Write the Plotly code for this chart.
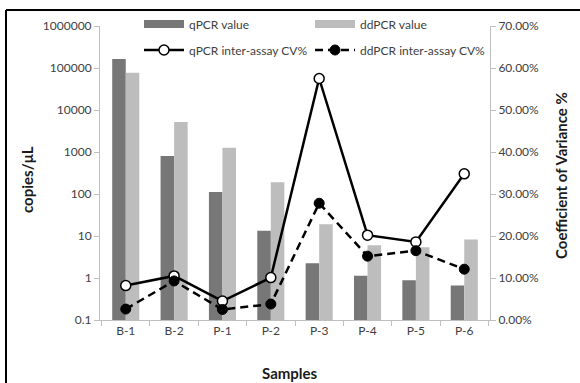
import plotly.graph_objects as go

samples = ["B-1", "B-2", "P-1", "P-2", "P-3", "P-4", "P-5", "P-6"]
qpcr_value = [163000, 800, 112, 13.4, 2.24, 1.13, 0.88, 0.66]
ddpcr_value = [77000, 5200, 1260, 190, 19, 6.0, 5.4, 8.2]
qpcr_cv = [0.082, 0.105, 0.045, 0.101, 0.575, 0.202, 0.186, 0.348]
ddpcr_cv = [0.026, 0.093, 0.025, 0.038, 0.278, 0.152, 0.165, 0.121]
left_ticks = [0.1, 1, 10, 100, 1000, 10000, 100000, 1000000]
left_tick_labels = ["0.1", "1", "10", "100", "1000", "10000", "100000", "1000000"]
right_ticks = [0, 0.1, 0.2, 0.3, 0.4, 0.5, 0.6, 0.7]

W, H = 580, 383
L, R, T, B = 100, 90, 26, 63
pw, ph = W - L - R, H - T - B

def px(x):
    return (x - L) / pw

def py(y):
    return (H - B - y) / ph

FONT = "Lato, 'Open Sans', sans-serif"
TICKC = "#404040"
AXC = "#bfbfbf"
DARK = "#777777"
LIGHT = "#bdbdbd"

fig = go.Figure()
fig.add_trace(go.Bar(x=samples, y=qpcr_value, name="qPCR value",
                     marker=dict(color=DARK, line=dict(width=0)), showlegend=False))
fig.add_trace(go.Bar(x=samples, y=ddpcr_value, name="ddPCR value",
                     marker=dict(color=LIGHT, line=dict(width=0)), showlegend=False))
# legend swatches for the bars (wide flat rectangles, as in the reference)
fig.add_trace(go.Scatter(x=[None], y=[None], name="qPCR value", mode="lines",
                         line=dict(color=DARK, width=8), legend="legend"))
fig.add_trace(go.Scatter(x=[None], y=[None], name="ddPCR value", mode="lines",
                         line=dict(color=LIGHT, width=8), legend="legend2"))
fig.add_trace(go.Scatter(x=samples, y=qpcr_cv, name="qPCR inter-assay CV%",
                         yaxis="y2", mode="lines+markers",
                         line=dict(color="black", width=2.5),
                         marker=dict(symbol="circle", size=10, color="white",
                                     line=dict(color="black", width=1.5)),
                         legend="legend3"))
fig.add_trace(go.Scatter(x=samples, y=ddpcr_cv, name="ddPCR inter-assay CV%",
                         yaxis="y2", mode="lines+markers",
                         line=dict(color="black", width=2.5, dash="8px,5px"),
                         marker=dict(symbol="circle", size=10, color="black",
                                     line=dict(color="black", width=1)),
                         legend="legend4"))

legend_common = dict(orientation="h", xanchor="left", yanchor="middle",
                     bgcolor="rgba(0,0,0,0)",
                     font=dict(family=FONT, size=12, color=TICKC), itemwidth=40)

fig.update_layout(
    width=W, height=H,
    margin=dict(l=L, r=R, t=T, b=B, autoexpand=False),
    paper_bgcolor="white", plot_bgcolor="white",
    font=dict(family=FONT, size=12, color=TICKC),
    barmode="group", bargap=0.44, bargroupgap=0,
    showlegend=True,
    legend=dict(x=px(139), y=py(24), **legend_common),
    legend2=dict(x=px(310), y=py(24), **legend_common),
    legend3=dict(x=px(139), y=py(50), **legend_common),
    legend4=dict(x=px(310), y=py(50), **legend_common),
    xaxis=dict(type="category", showline=True, linecolor=AXC, linewidth=1,
               ticks="outside", ticklen=5, tickcolor=AXC, tickson="boundaries",
               tickfont=dict(family=FONT, size=12, color=TICKC), showgrid=False,
               zeroline=False),
    yaxis=dict(type="log", range=[-1, 6], tickvals=left_ticks, ticktext=left_tick_labels,
               showline=True, linecolor=AXC, linewidth=1, ticks="outside", ticklen=5,
               tickcolor=AXC, showgrid=False, zeroline=False,
               tickfont=dict(family=FONT, size=12, color=TICKC)),
    yaxis2=dict(overlaying="y", side="right", range=[0, 0.7], tickvals=right_ticks,
                tickformat=".2%", showline=True, linecolor=AXC, linewidth=1,
                ticks="outside", ticklen=5, tickcolor=AXC, showgrid=False,
                zeroline=False, tickfont=dict(family=FONT, size=12, color=TICKC)),
    shapes=[
        dict(type="line", xref="paper", yref="paper", x0=px(6), x1=px(600),
             y0=py(10), y1=py(10), line=dict(color="black", width=2)),
        dict(type="line", xref="paper", yref="paper", x0=px(6), x1=px(6),
             y0=py(10), y1=py(400), line=dict(color="black", width=2)),
    ],
    annotations=[
        dict(text="<b>copies/μL</b>", xref="paper", yref="paper", x=px(27), y=py(180),
             xanchor="center", yanchor="middle", textangle=-90, showarrow=False,
             font=dict(family=FONT, size=15, color="#1a1a1a")),
        dict(text="<b>Coefficient of Variance %</b>", xref="paper", yref="paper",
             x=px(561), y=py(176), xanchor="center", yanchor="middle", textangle=-90,
             showarrow=False, font=dict(family=FONT, size=15, color="#1a1a1a")),
        dict(text="<b>Samples</b>", xref="paper", yref="paper", x=px(290), y=py(373),
             xanchor="center", yanchor="middle", showarrow=False,
             font=dict(family=FONT, size=15, color="#1a1a1a")),
    ],
)

fig.write_html("out.html", config={"displayModeBar": False},
               post_script="document.body.style.margin='0';document.body.style.padding='0';")
